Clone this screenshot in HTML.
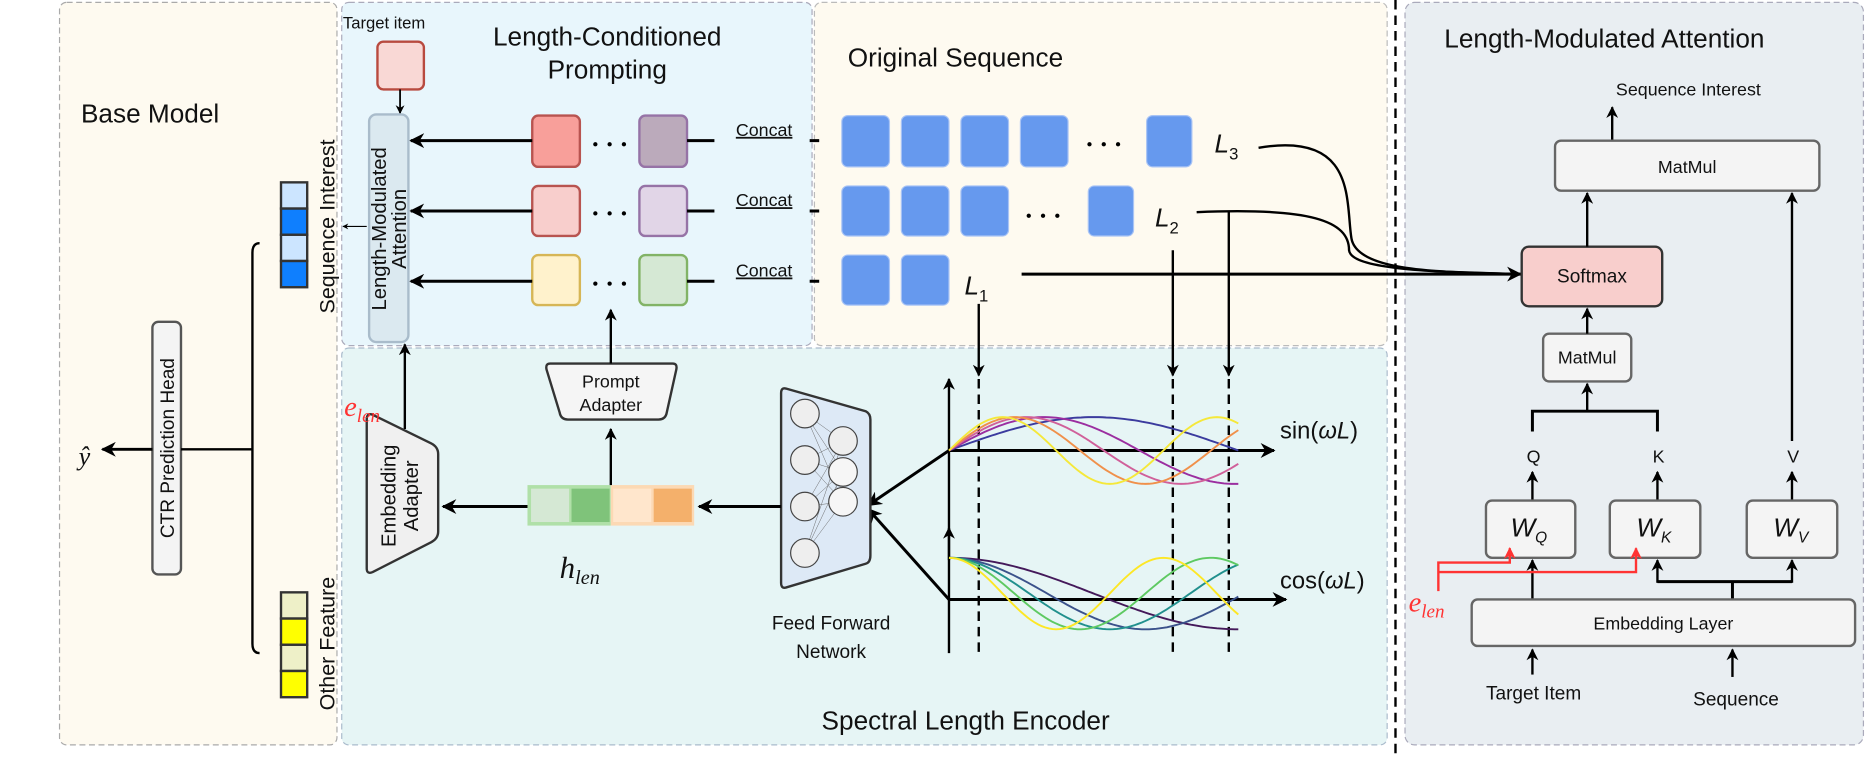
<!DOCTYPE html>
<html><head><meta charset="utf-8"><style>
html,body{margin:0;padding:0;background:#fff;}
svg{display:block}
text{font-family:"Liberation Sans Narrow","Liberation Sans",sans-serif;fill:#111}
.m{font-family:"Liberation Serif",serif;font-style:italic}
</style></head><body>
<svg width="1867" height="758" viewBox="0 0 1568 636" preserveAspectRatio="none" xmlns="http://www.w3.org/2000/svg">
<defs>
<marker id="a" viewBox="0 0 10 10" refX="9" refY="5" markerWidth="5" markerHeight="5" orient="auto-start-reverse"><path d="M0,0 L10,5 L0,10 L3,5 z" fill="#000"/></marker>
<marker id="r" viewBox="0 0 10 10" refX="9" refY="5" markerWidth="5" markerHeight="5" orient="auto"><path d="M0,0 L10,5 L0,10 L3,5 z" fill="#f33"/></marker>
</defs>
<rect x="50" y="2" width="233" height="623" rx="6" fill="#fefaf0" stroke="#aaa" stroke-dasharray="5,3"/>
<rect x="287" y="2" width="395" height="288" rx="6" fill="#e8f6fc" stroke="#aab" stroke-dasharray="5,3"/>
<rect x="684" y="2" width="481" height="288" rx="6" fill="#fefaf0" stroke="#bbb" stroke-dasharray="5,3"/>
<rect x="287" y="292" width="878" height="333" rx="6" fill="#e6f5f5" stroke="#abc" stroke-dasharray="5,3"/>
<rect x="1180" y="2" width="385" height="623" rx="8" fill="#e9eef2" stroke="#aab" stroke-dasharray="5,3"/>
<line x1="1172" y1="0" x2="1172" y2="636" stroke="#000" stroke-width="2" stroke-dasharray="8,5"/>

<text x="68" y="103" font-size="22">Base Model</text>
<text x="510" y="38" font-size="22" text-anchor="middle">Length-Conditioned</text>
<text x="510" y="66" font-size="22" text-anchor="middle">Prompting</text>
<text x="712" y="56" font-size="22">Original Sequence</text>
<text x="690" y="612" font-size="22">Spectral Length Encoder</text>
<text x="1213" y="40" font-size="22">Length-Modulated Attention</text>

<rect x="128" y="270" width="24" height="212" rx="5" fill="#f4f4f4" stroke="#555" stroke-width="2"/>
<text transform="translate(146,376) rotate(-90)" font-size="16" text-anchor="middle" fill="#333">CTR Prediction Head</text>
<line x1="128" y1="377" x2="86" y2="377" stroke="#000" stroke-width="2.5" marker-end="url(#a)"/>
<text x="66" y="390" class="m" font-size="22">ŷ</text>
<path d="M152,377 H212 M218,204 Q212,204 212,212 V540 Q212,548 218,548" fill="none" stroke="#000" stroke-width="2"/>
<g stroke="#333" stroke-width="2">
<rect x="236" y="153" width="22" height="22" fill="#cce5ff"/><rect x="236" y="175" width="22" height="22" fill="#0f7ffe"/>
<rect x="236" y="197" width="22" height="22" fill="#cce5ff"/><rect x="236" y="219" width="22" height="22" fill="#0f7ffe"/>
<rect x="236" y="497" width="22" height="22" fill="#eef0c8"/><rect x="236" y="519" width="22" height="22" fill="#ffff00"/>
<rect x="236" y="541" width="22" height="22" fill="#eef0c8"/><rect x="236" y="563" width="22" height="22" fill="#ffff00"/>
</g>
<text transform="translate(281,190) rotate(-90)" font-size="18" text-anchor="middle">Sequence Interest</text>
<text transform="translate(281,540) rotate(-90)" font-size="18" text-anchor="middle">Other Feature</text>
<line x1="308" y1="190" x2="288" y2="190" stroke="#000" stroke-width="1" marker-end="url(#a)"/>

<text x="288" y="24" font-size="14">Target item</text>
<rect x="317" y="35" width="39" height="40" rx="5" fill="#f9d8d5" stroke="#b84a3f" stroke-width="2"/>
<line x1="336" y1="75" x2="336" y2="95" stroke="#000" stroke-width="1.5" marker-end="url(#a)"/>
<rect x="310" y="96" width="33" height="191" rx="6" fill="#dbe9f0" stroke="#a9bccb" stroke-width="2"/>
<text transform="translate(324,192) rotate(-90)" font-size="17" text-anchor="middle">Length-Modulated</text>
<text transform="translate(341,192) rotate(-90)" font-size="17" text-anchor="middle">Attention</text>
<g stroke-width="2">
<rect x="447" y="97" width="40" height="43" rx="5" fill="#f89f9a" stroke="#b85450"/><rect x="537" y="97" width="40" height="43" rx="5" fill="#bbaabb" stroke="#9673a6"/>
<rect x="447" y="156" width="40" height="42" rx="5" fill="#f8cecc" stroke="#b85450"/><rect x="537" y="156" width="40" height="42" rx="5" fill="#e1d5e7" stroke="#9673a6"/>
<rect x="447" y="214" width="40" height="42" rx="5" fill="#fff2cc" stroke="#d6b656"/><rect x="537" y="214" width="40" height="42" rx="5" fill="#d5e8d4" stroke="#82b366"/>
</g>
<g fill="#000">
<circle cx="500" cy="121" r="1.8"/><circle cx="512" cy="121" r="1.8"/><circle cx="524" cy="121" r="1.8"/>
<circle cx="500" cy="179" r="1.8"/><circle cx="512" cy="179" r="1.8"/><circle cx="524" cy="179" r="1.8"/>
<circle cx="500" cy="238" r="1.8"/><circle cx="512" cy="238" r="1.8"/><circle cx="524" cy="238" r="1.8"/>
<circle cx="915" cy="121" r="1.8"/><circle cx="927" cy="121" r="1.8"/><circle cx="939" cy="121" r="1.8"/>
<circle cx="864" cy="181" r="1.8"/><circle cx="876" cy="181" r="1.8"/><circle cx="888" cy="181" r="1.8"/>
</g>
<g stroke="#000" stroke-width="2.5">
<line x1="447" y1="118" x2="345" y2="118" marker-end="url(#a)"/><line x1="447" y1="177" x2="345" y2="177" marker-end="url(#a)"/><line x1="447" y1="236" x2="345" y2="236" marker-end="url(#a)"/>
<path d="M577,118 H600 M577,177 H600 M577,236 H600 M680,118 H688 M680,177 H688 M680,236 H688"/>
</g>
<g font-size="15"><text x="618" y="114" text-decoration="underline">Concat</text><text x="618" y="173" text-decoration="underline">Concat</text><text x="618" y="232" text-decoration="underline">Concat</text></g>

<g fill="#6699ee" stroke="#a9c4f5">
<rect x="707" y="97" width="40" height="43" rx="5"/><rect x="757" y="97" width="40" height="43" rx="5"/><rect x="807" y="97" width="40" height="43" rx="5"/><rect x="857" y="97" width="40" height="43" rx="5"/><rect x="963" y="97" width="38" height="43" rx="5"/>
<rect x="707" y="156" width="40" height="42" rx="5"/><rect x="757" y="156" width="40" height="42" rx="5"/><rect x="807" y="156" width="40" height="42" rx="5"/><rect x="914" y="156" width="38" height="42" rx="5"/>
<rect x="707" y="214" width="40" height="42" rx="5"/><rect x="757" y="214" width="40" height="42" rx="5"/>
</g>
<g class="m" font-size="22"><text x="1020" y="128">L<tspan font-size="14" font-style="normal" dy="6">3</tspan></text><text x="970" y="190">L<tspan font-size="14" font-style="normal" dy="6">2</tspan></text><text x="810" y="247">L<tspan font-size="14" font-style="normal" dy="6">1</tspan></text></g>
<g fill="none" stroke="#000" stroke-width="2">
<path d="M1057,124 C1140,110 1130,170 1135,200 C1140,230 1220,228 1276,230"/>
<path d="M1005,178 C1100,174 1133,185 1133,210 C1135,228 1220,228 1276,230"/>
<line x1="858" y1="230" x2="1277" y2="230" stroke-width="2.5" marker-end="url(#a)"/>
<line x1="822" y1="255" x2="822" y2="315" marker-end="url(#a)"/>
<line x1="985" y1="210" x2="985" y2="315" marker-end="url(#a)"/>
<line x1="1032" y1="177" x2="1032" y2="315" marker-end="url(#a)"/>
<g stroke-dasharray="8,5"><line x1="822" y1="318" x2="822" y2="548"/><line x1="985" y1="318" x2="985" y2="548"/><line x1="1032" y1="318" x2="1032" y2="548"/></g>
<line x1="797" y1="470" x2="797" y2="318" marker-end="url(#a)"/>
<line x1="797" y1="378" x2="1070" y2="378" stroke-width="2.5" marker-end="url(#a)"/>
<line x1="797" y1="548" x2="797" y2="443" marker-end="url(#a)"/>
<line x1="797" y1="503" x2="1080" y2="503" stroke-width="2.5" marker-end="url(#a)"/>
<line x1="797" y1="378" x2="729" y2="424" stroke-width="2.5" marker-end="url(#a)"/>
<line x1="797" y1="503" x2="729" y2="427" stroke-width="2.5" marker-end="url(#a)"/>
</g>
<g id="curves" fill="none" stroke-width="1.6"></g>
<text x="1075" y="368" font-family="Liberation Serif" font-size="20">sin(<tspan font-style="italic">ωL</tspan>)</text>
<text x="1075" y="494" font-family="Liberation Serif" font-size="20">cos(<tspan font-style="italic">ωL</tspan>)</text>

<path d="M660,326 L727,345 Q731,347 731,352 V466 Q731,472 727,473 L660,493 Q656,494 656,489 V330 Q656,325 660,326 z" fill="#dde9f6" stroke="#333" stroke-width="2"/>
<g stroke="#666" stroke-width="0.4">
<path d="M676,347 L708,370 M676,347 L708,396 M676,347 L708,421 M676,386 L708,370 M676,386 L708,396 M676,386 L708,421 M676,425 L708,370 M676,425 L708,396 M676,425 L708,421 M676,464 L708,370 M676,464 L708,396 M676,464 L708,421"/>
</g>
<g fill="#eee" stroke="#444" stroke-width="1">
<circle cx="676" cy="347" r="12"/><circle cx="676" cy="386" r="12"/><circle cx="676" cy="425" r="12"/><circle cx="676" cy="464" r="12"/>
<circle cx="708" cy="370" r="12"/><circle cx="708" cy="396" r="12" fill="#f6f6f6"/><circle cx="708" cy="421" r="12" fill="#f6f6f6"/>
</g>
<text x="698" y="528" font-size="16" text-anchor="middle">Feed Forward</text>
<text x="698" y="552" font-size="16" text-anchor="middle">Network</text>
<line x1="656" y1="425" x2="587" y2="425" stroke="#000" stroke-width="2.5" marker-end="url(#a)"/>
<rect x="443" y="407" width="70" height="34" fill="#b0e0a8"/><rect x="513" y="407" width="70" height="34" fill="#fcd9b4"/>
<rect x="446" y="410" width="32" height="28" fill="#d5e8d4"/><rect x="480" y="410" width="32" height="28" fill="#7fc37a"/>
<rect x="515" y="410" width="32" height="28" fill="#ffe6cc"/><rect x="549" y="410" width="32" height="28" fill="#f4b06b"/>
<text x="470" y="485" class="m" font-size="26">h<tspan font-size="17" dy="5">len</tspan></text>
<line x1="443" y1="425" x2="372" y2="425" stroke="#000" stroke-width="2.5" marker-end="url(#a)"/>
<line x1="513" y1="407" x2="513" y2="360" stroke="#000" stroke-width="2" marker-end="url(#a)"/>
<path d="M462,305 H565 Q569,305 568,310 L560,346 Q559,352 553,352 H477 Q471,352 470,346 L459,310 Q458,305 462,305 z" fill="#f5f5f5" stroke="#333" stroke-width="2"/>
<text x="513" y="325" font-size="15" text-anchor="middle">Prompt</text>
<text x="513" y="345" font-size="15" text-anchor="middle">Adapter</text>
<line x1="513" y1="305" x2="513" y2="260" stroke="#000" stroke-width="2" marker-end="url(#a)"/>
<path d="M313,348 L362,372 Q368,375 368,381 V446 Q368,452 362,455 L313,480 Q308,482 308,477 V352 Q308,346 313,348 z" fill="#f0f0f0" stroke="#333" stroke-width="2"/>
<text transform="translate(332,416) rotate(-90)" font-size="17" text-anchor="middle">Embedding</text>
<text transform="translate(351,416) rotate(-90)" font-size="17" text-anchor="middle">Adapter</text>
<line x1="340" y1="360" x2="340" y2="289" stroke="#000" stroke-width="2" marker-end="url(#a)"/>
<text x="289" y="349" class="m" font-size="24" style="fill:#f33">e<tspan font-size="16" dy="5">len</tspan></text>

<text x="1418" y="80" font-size="15" text-anchor="middle">Sequence Interest</text>
<line x1="1354" y1="118" x2="1354" y2="90" stroke="#000" stroke-width="2" marker-end="url(#a)"/>
<rect x="1306" y="118" width="222" height="42" rx="5" fill="#f4f4f4" stroke="#666" stroke-width="2"/>
<text x="1417" y="145" font-size="15" text-anchor="middle" fill="#333">MatMul</text>
<rect x="1278" y="207" width="118" height="50" rx="6" fill="#f8cecc" stroke="#333" stroke-width="2"/>
<text x="1337" y="237" font-size="16" text-anchor="middle">Softmax</text>
<rect x="1296" y="280" width="74" height="40" rx="5" fill="#f4f4f4" stroke="#666" stroke-width="2"/>
<text x="1333" y="305" font-size="15" text-anchor="middle" fill="#333">MatMul</text>
<g stroke="#000" stroke-width="2" fill="none">
<line x1="1333" y1="207" x2="1333" y2="162" marker-end="url(#a)"/>
<line x1="1333" y1="280" x2="1333" y2="259" marker-end="url(#a)"/>
<line x1="1333" y1="345" x2="1333" y2="322" marker-end="url(#a)"/>
<path d="M1287,362 V345 H1392 V362" stroke-width="2.5"/>
<line x1="1505" y1="370" x2="1505" y2="162" marker-end="url(#a)"/>
<line x1="1287" y1="420" x2="1287" y2="396" marker-end="url(#a)"/>
<line x1="1392" y1="420" x2="1392" y2="396" marker-end="url(#a)"/>
<line x1="1505" y1="420" x2="1505" y2="396" marker-end="url(#a)"/>
<line x1="1287" y1="503" x2="1287" y2="470" marker-end="url(#a)"/>
<path d="M1455,503 V488 H1392 M1455,488 H1505" stroke-width="2.5"/>
<line x1="1392" y1="489" x2="1392" y2="470" marker-end="url(#a)"/>
<line x1="1505" y1="489" x2="1505" y2="470" marker-end="url(#a)"/>
<line x1="1287" y1="566" x2="1287" y2="545" marker-end="url(#a)"/>
<line x1="1455" y1="568" x2="1455" y2="545" marker-end="url(#a)"/>
</g>
<g font-size="15" text-anchor="middle"><text x="1288" y="388">Q</text><text x="1393" y="388">K</text><text x="1506" y="388">V</text></g>
<g fill="#f4f4f4" stroke="#666" stroke-width="2">
<rect x="1248" y="420" width="75" height="48" rx="5"/><rect x="1352" y="420" width="76" height="48" rx="5"/><rect x="1467" y="420" width="76" height="48" rx="5"/>
<rect x="1236" y="503" width="322" height="39" rx="5"/>
</g>
<g class="m" font-size="22" text-anchor="middle"><text x="1284" y="450">W<tspan font-size="13" dy="5">Q</tspan></text><text x="1389" y="450">W<tspan font-size="13" dy="5">K</tspan></text><text x="1504" y="450">W<tspan font-size="13" dy="5">V</tspan></text></g>
<text x="1397" y="528" font-size="15" text-anchor="middle" fill="#333">Embedding Layer</text>
<g stroke="#f33" stroke-width="2" fill="none">
<path d="M1208,496 V472 H1268 V460" marker-end="url(#r)"/>
<path d="M1208,480 H1374 V460" marker-end="url(#r)"/>
</g>
<text x="1183" y="513" class="m" font-size="24" style="fill:#f33">e<tspan font-size="16" dy="5">len</tspan></text>
<text x="1288" y="587" font-size="16" text-anchor="middle">Target Item</text>
<text x="1458" y="592" font-size="16" text-anchor="middle">Sequence</text>
</svg>
<script>
(function(){
var g=document.getElementById('curves');
function add(d,c){var p=document.createElementNS('http://www.w3.org/2000/svg','path');p.setAttribute('d',d);p.setAttribute('stroke',c);g.appendChild(p);}
var sinP=[[486,'#3b3b9e'],[320,'#9b2ea0'],[260,'#d0609a'],[220,'#f0904a'],[180,'#f5e83a']];
var cosP=[[486,'#44195a'],[330,'#3b528b'],[270,'#21908d'],[220,'#5ec962'],[180,'#fde725']];
sinP.forEach(function(s){var d='';for(var x=0;x<=243;x+=3){var y=378-28*Math.sin(2*Math.PI*x/s[0]);d+=(x?'L':'M')+(797+x)+','+y.toFixed(1);}add(d,s[1]);});
cosP.forEach(function(s){var d='';for(var x=0;x<=243;x+=3){var y=498-30*Math.cos(2*Math.PI*x/s[0]);d+=(x?'L':'M')+(797+x)+','+y.toFixed(1);}add(d,s[1]);});
})();
</script>
</body></html>
